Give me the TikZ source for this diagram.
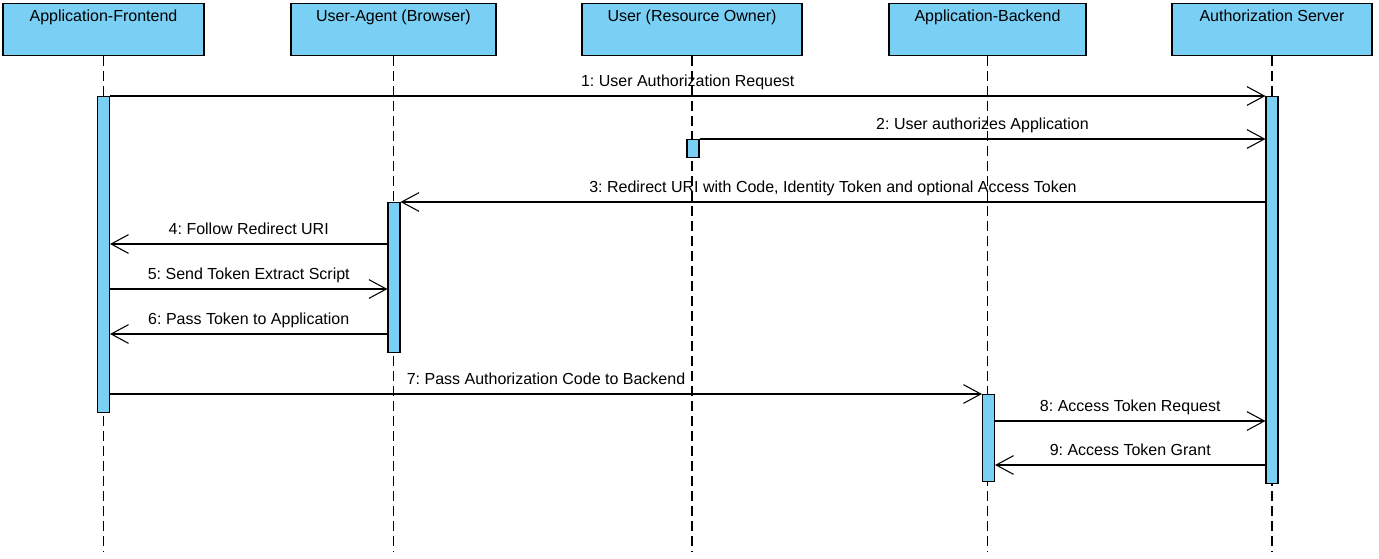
\documentclass[tikz,border=0pt]{standalone}
\usepackage{fontspec}
\setmainfont{Liberation Sans}
\usetikzlibrary{arrows.meta}
\definecolor{lifeblue}{RGB}{122,207,245}
\frenchspacing

\begin{document}
\begin{tikzpicture}[x=0.75pt, y=-0.75pt,
    head/.style={draw, line width=0.8pt, fill=lifeblue, anchor=north, inner sep=0pt,
        text height=13.5pt, text depth=25.5pt, font=\fontsize{12}{14}\selectfont},
    bar/.style={draw, line width=0.8pt, fill=lifeblue, anchor=north, inner sep=0pt, minimum width=9pt},
    life/.style={line width=0.8pt, dash pattern=on 7.5pt off 3.75pt},
    msg/.style={line width=0.8pt, -{Straight Barb[length=13pt, width=14pt]}},
    lbl/.style={midway, anchor=base, yshift=7pt, inner sep=0pt, font=\fontsize{12}{14}\selectfont}]
    \useasboundingbox (0,0) rectangle (1379,558);

    % Draw the header boxes
    \node[head, minimum width=150.75pt] (fe) at (103.5,3) {Application-Frontend};
    \node[head, minimum width=153.75pt] (ua) at (393.5,3) {User-Agent (Browser)};
    \node[head, minimum width=165pt] (user) at (692,3) {User (Resource Owner)};
    \node[head, minimum width=147.75pt] (be) at (987.5,3) {Application-Backend};
    \node[head, minimum width=150pt] (as) at (1272,3) {Authorization Server};

    % Draw the lifelines
    \coordinate (end) at (0,552);
    \foreach \p in {fe, ua, user, be, as}
        \draw[life] (\p.south) -- (\p.south |- end);

    % Draw the activation bars
    \node[bar, minimum height=237pt] (afe) at (103.5,96) {};
    \node[bar, minimum height=112.5pt] (aua) at (394,202) {};
    \node[bar, minimum height=13.5pt] (auser) at (693,139) {};
    \node[bar, minimum height=65.25pt] (abe) at (988.5,394) {};
    \node[bar, minimum height=290.25pt] (aas) at (1272,96) {};

    % Message heights
    \coordinate (m4) at (0,244);
    \coordinate (m5) at (0,289);
    \coordinate (m6) at (0,334);
    \coordinate (m8) at (0,421);
    \coordinate (m9) at (0,465);

    % Draw the messages
    \draw[msg] (afe.north east) -- node[lbl] {1: User Authorization Request} (aas.north west);
    \draw[msg] (auser.north east) -- node[lbl] {2: User authorizes Application} (aas.west |- auser.north);
    \draw[msg] (aas.west |- aua.north) -- node[lbl] {3: Redirect URI with Code, Identity Token and optional Access Token} (aua.north east);
    \draw[msg] (aua.west |- m4) -- node[lbl] {4: Follow Redirect URI} (afe.east |- m4);
    \draw[msg] (afe.east |- m5) -- node[lbl] {5: Send Token Extract Script} (aua.west |- m5);
    \draw[msg] (aua.west |- m6) -- node[lbl] {6: Pass Token to Application} (afe.east |- m6);
    \draw[msg] (afe.east |- abe.north) -- node[lbl] {7: Pass Authorization Code to Backend} (abe.north west);
    \draw[msg] (abe.east |- m8) -- node[lbl] {8: Access Token Request} (aas.west |- m8);
    \draw[msg] (aas.west |- m9) -- node[lbl] {9: Access Token Grant} (abe.east |- m9);

\end{tikzpicture}
\end{document}
